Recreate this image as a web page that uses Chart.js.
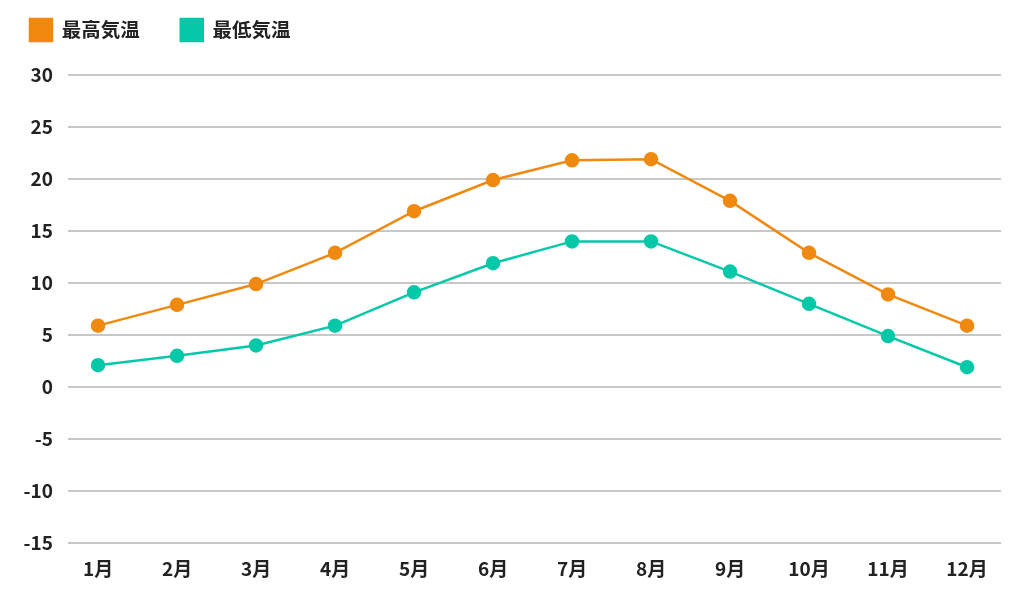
<!DOCTYPE html>
<html>
<head>
<meta charset="utf-8">
<script src="https://cdn.jsdelivr.net/npm/chart.js@4"></script>
<style>
  html, body { margin: 0; padding: 0; background: #fff; }
  #wrap { width: 1032px; height: 597px; position: relative; }
</style>
</head>
<body>
<div id="wrap"><canvas id="tempChart"></canvas></div>
<script>
// 月別 最高・最低気温
const months = ['1月', '2月', '3月', '4月', '5月', '6月', '7月', '8月', '9月', '10月', '11月', '12月'];
const maxTemps = [5.9, 7.9, 9.9, 12.9, 16.9, 19.9, 21.8, 21.9, 17.9, 12.9, 8.9, 5.9];
const minTemps = [2.1, 3.0, 4.0, 5.9, 9.1, 11.9, 14.0, 14.0, 11.1, 8.0, 4.9, 1.9];
const yTicks = [-15, -10, -5, 0, 5, 10, 15, 20, 25, 30];

const orange = '#F0890F';
const teal = '#05C8A8';
const fontFamily = '"Noto Sans CJK JP", "Noto Sans", sans-serif';

Chart.defaults.font.family = fontFamily;
Chart.defaults.color = '#222';

const toPoints = arr => arr.map((v, i) => ({ x: i, y: v }));

// 凡例の位置を左上に寄せる
const legendShift = {
    id: 'legendShift',
    afterLayout(chart) {
        if (chart.legend) {
            chart.legend.left -= 11;
            chart.legend.top -= 24;
        }
    }
};

const ctx = document.getElementById('tempChart').getContext('2d');
const tempChart = new Chart(ctx, {
    type: 'line',
    data: {
        datasets: [{
            label: '最高気温',
            data: toPoints(maxTemps),
            borderColor: orange,
            backgroundColor: orange,
            borderWidth: 2.5,
            pointRadius: 6,
            pointHoverRadius: 6,
            tension: 0
        }, {
            label: '最低気温',
            data: toPoints(minTemps),
            borderColor: teal,
            backgroundColor: teal,
            borderWidth: 2.5,
            pointRadius: 6,
            pointHoverRadius: 6,
            tension: 0
        }]
    },
    plugins: [legendShift],
    options: {
        responsive: true,
        maintainAspectRatio: false,
        animation: false,
        layout: {
            padding: { left: 0, right: 31, top: 2, bottom: 0 }
        },
        plugins: {
            legend: {
                position: 'top',
                align: 'start',
                labels: {
                    boxWidth: 22,
                    boxHeight: 22,
                    padding: 41,
                    color: '#222',
                    font: { size: 19.5, weight: 'bold' }
                }
            },
            tooltip: { enabled: false }
        },
        scales: {
            x: {
                type: 'linear',
                min: -0.38,
                max: 11.43,
                afterFit: axis => { axis.height = 54; },
                grid: { display: false },
                border: { display: false },
                ticks: {
                    stepSize: 1,
                    includeBounds: false,
                    autoSkip: false,
                    maxRotation: 0,
                    padding: 6,
                    color: '#222',
                    font: { size: 19, weight: 'bold' },
                    callback: value => months[value] ?? ''
                }
            },
            y: {
                min: yTicks[0],
                max: yTicks[yTicks.length - 1],
                afterBuildTicks: axis => { axis.ticks = yTicks.map(v => ({ value: v })); },
                afterFit: axis => { axis.width = 68; },
                grid: { color: '#c8c8c8', lineWidth: 2, drawTicks: false },
                border: { display: false },
                ticks: {
                    padding: 15,
                    color: '#222',
                    font: { size: 19, weight: 'bold' }
                }
            }
        }
    }
});
</script>
</body>
</html>
